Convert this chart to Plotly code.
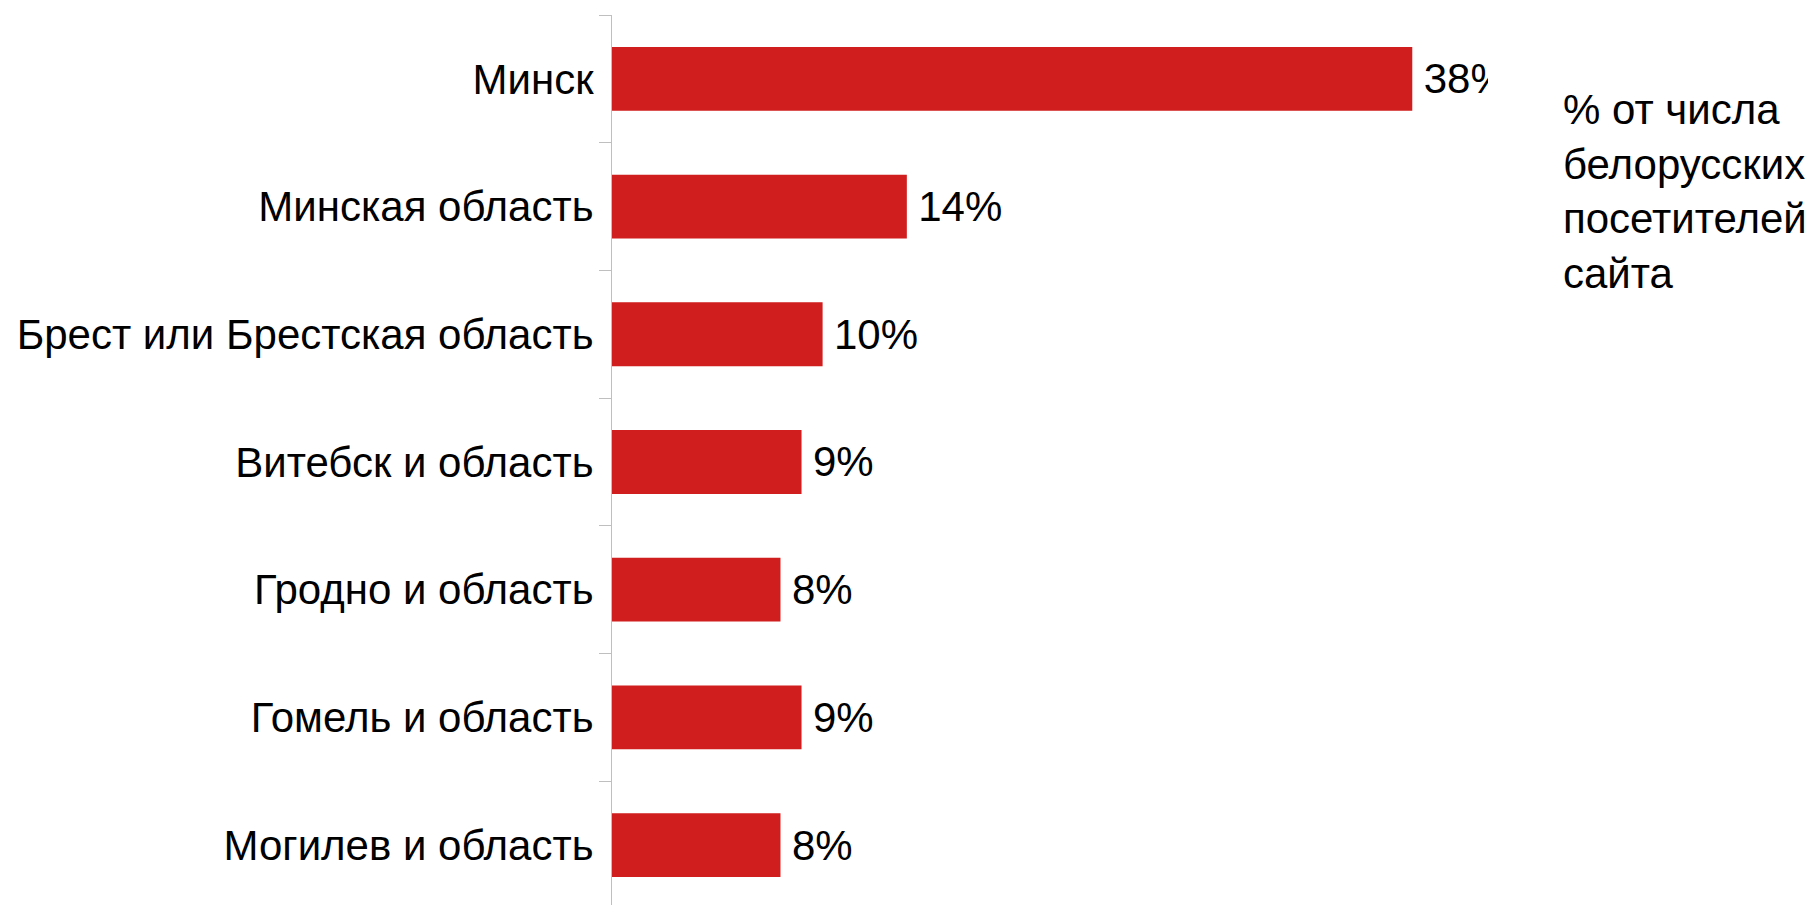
import plotly.graph_objects as go

regions = ["Минск", "Минская область", "Брест или Брестская область",
           "Витебск и область", "Гродно и область", "Гомель и область",
           "Могилев и область"]
shares = [38, 14, 10, 9, 8, 9, 8]
note_lines = ["% от числа", "белорусских", "посетителей", "сайта"]

W, H = 1813, 905
OFF = 8  # page body margin
L = 612 - OFF
T = 15 - OFF
B = OFF
R = W - (1488 - OFF)
plot_w = W - L - R
plot_h = H - T - B
cat_px = 127.7
px_per_pct = 21.06

fig = go.Figure(go.Bar(
    x=shares, y=regions, orientation="h",
    marker=dict(color="#D01D1D", line=dict(width=0)),
    width=0.5,
    text=[f"\u2009{v}%" for v in shares],
    textposition="outside",
    textfont=dict(size=42, color="#000000", family="Liberation Sans"),
    constraintext="none",
    cliponaxis=True,
))

fig.update_layout(
    width=W, height=H,
    margin=dict(l=L, r=R, t=T, b=B, pad=0),
    paper_bgcolor="white", plot_bgcolor="white",
    font=dict(family="Liberation Sans", size=42, color="#000000"),
    showlegend=False,
    xaxis=dict(range=[0, plot_w / px_per_pct], visible=False, fixedrange=True),
    yaxis=dict(
        type="category",
        range=[-0.5 + plot_h / cat_px, -0.5],
        showline=True, linecolor="#BFBFBF", linewidth=1,
        ticks="outside", tickson="boundaries", ticklen=12,
        tickcolor="#BFBFBF", tickwidth=1,
        showgrid=False, zeroline=False,
        tickfont=dict(size=42, color="#000000"),
        ticklabelstandoff=9,
    ),
    annotations=[dict(
        text="<br>".join(note_lines),
        xref="paper", yref="paper",
        x=(1561 - OFF - L) / plot_w, y=1 - (84 - OFF - T) / plot_h,
        xanchor="left", yanchor="top", align="left",
        showarrow=False,
        font=dict(size=42, color="#000000"),
    )],
)

fig.write_html("out.html")
